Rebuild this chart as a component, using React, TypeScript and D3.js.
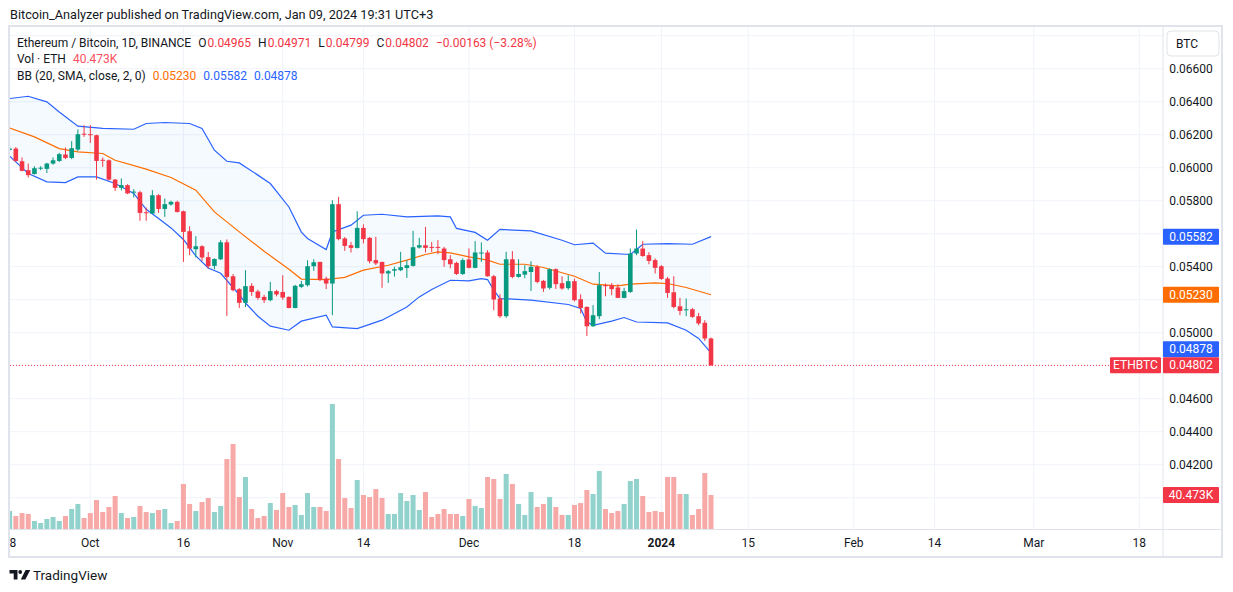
import React from 'react';
import * as d3 from 'd3';

// daily candles, ETH/BTC, from 2023-09-18 to 2024-01-09
const firstDay = '2023-09-18';

const opens = [
  0.06108, 0.06116, 0.06039, 0.05985, 0.05962, 0.05996, 0.05993, 0.06025, 0.06041, 0.0608,
  0.06059, 0.0611, 0.06206, 0.06203, 0.06197, 0.06048, 0.06045, 0.05928, 0.05878, 0.05894,
  0.0585, 0.05851, 0.0573, 0.05722, 0.05833, 0.0575, 0.05777, 0.05793, 0.05736, 0.05615,
  0.05506, 0.05524, 0.05458, 0.05405, 0.05445, 0.05548, 0.05342, 0.05264, 0.05181, 0.05284,
  0.0525, 0.05217, 0.05197, 0.05252, 0.05247, 0.05217, 0.0515, 0.05278, 0.05288, 0.05403,
  0.05429, 0.05328, 0.05298, 0.05779, 0.05571, 0.0553, 0.05514, 0.05635, 0.05575, 0.0544,
  0.05429, 0.05359, 0.05376, 0.05379, 0.05392, 0.05405, 0.05516, 0.0553, 0.0552, 0.0552,
  0.0551, 0.05445, 0.05423, 0.05356, 0.05444, 0.05393, 0.0548, 0.05486, 0.05342, 0.05207,
  0.051, 0.05445, 0.05338, 0.05352, 0.05368, 0.05399, 0.05314, 0.05272, 0.05385, 0.053,
  0.0527, 0.05312, 0.05203, 0.05156, 0.05039, 0.051, 0.05288, 0.05288, 0.05274, 0.05211,
  0.05247, 0.0548, 0.0551, 0.0547, 0.0544, 0.05403, 0.05328, 0.05245, 0.0516, 0.0514,
  0.05142, 0.051, 0.0506, 0.04965,
];
const highs = [
  0.0613, 0.06125, 0.06062, 0.06025, 0.06009, 0.06009, 0.0603, 0.06062, 0.0609, 0.06122,
  0.06161, 0.06232, 0.06258, 0.06258, 0.062, 0.06062, 0.0605, 0.05932, 0.05935, 0.059,
  0.0587, 0.0586, 0.05759, 0.05864, 0.0584, 0.05813, 0.058, 0.058, 0.0574, 0.05645,
  0.05585, 0.0553, 0.05489, 0.0545, 0.05561, 0.05565, 0.05355, 0.0527, 0.05379, 0.053,
  0.0526, 0.0523, 0.05308, 0.0526, 0.05348, 0.0522, 0.0529, 0.05314, 0.05439, 0.05445,
  0.0543, 0.0534, 0.05803, 0.05823, 0.0558, 0.0555, 0.05736, 0.05656, 0.0558, 0.05581,
  0.0543, 0.0538, 0.054, 0.0549, 0.05439, 0.05617, 0.05575, 0.05641, 0.0555, 0.05561,
  0.0552, 0.0547, 0.0543, 0.0545, 0.0551, 0.05555, 0.05547, 0.055, 0.0535, 0.05233,
  0.0549, 0.05494, 0.05445, 0.05409, 0.05433, 0.0541, 0.0532, 0.0539, 0.0539, 0.05342,
  0.05348, 0.05328, 0.05233, 0.0516, 0.05167, 0.05368, 0.05298, 0.053, 0.05294, 0.05272,
  0.0551, 0.05625, 0.05555, 0.05488, 0.0545, 0.0541, 0.05338, 0.05342, 0.05211, 0.05207,
  0.0515, 0.0512, 0.05076, 0.04971,
];
const lows = [
  0.061, 0.06035, 0.05978, 0.05941, 0.05958, 0.05985, 0.05968, 0.06018, 0.06035, 0.06052,
  0.06052, 0.061, 0.06187, 0.0615, 0.05928, 0.06005, 0.05922, 0.05859, 0.05862, 0.0584,
  0.0582, 0.05678, 0.05678, 0.05718, 0.05726, 0.05702, 0.0577, 0.05728, 0.05429, 0.0547,
  0.05456, 0.05435, 0.05389, 0.05385, 0.0544, 0.05102, 0.0525, 0.0515, 0.05156, 0.05223,
  0.052, 0.0518, 0.0519, 0.0522, 0.052, 0.05148, 0.05148, 0.0527, 0.0528, 0.05375,
  0.05312, 0.05264, 0.05106, 0.0556, 0.05496, 0.05486, 0.0551, 0.05541, 0.0542, 0.0541,
  0.05272, 0.05302, 0.0534, 0.05373, 0.05332, 0.054, 0.0551, 0.05486, 0.0549, 0.05476,
  0.05399, 0.0539, 0.0535, 0.0535, 0.0539, 0.0539, 0.05429, 0.0534, 0.05136, 0.0509,
  0.0509, 0.0533, 0.05334, 0.0533, 0.05253, 0.053, 0.05247, 0.05262, 0.05265, 0.0526,
  0.0526, 0.0519, 0.05116, 0.0498, 0.05035, 0.05082, 0.05221, 0.05227, 0.0521, 0.05208,
  0.05241, 0.0547, 0.0546, 0.05415, 0.05359, 0.0532, 0.05211, 0.05147, 0.05106, 0.051,
  0.0509, 0.05045, 0.0495, 0.04799,
];
const closes = [
  0.06116, 0.06041, 0.05981, 0.05955, 0.05997, 0.06, 0.06025, 0.06045, 0.06082, 0.06059,
  0.06118, 0.06203, 0.06203, 0.06199, 0.06041, 0.06045, 0.05928, 0.05878, 0.05894, 0.05844,
  0.05855, 0.05726, 0.05728, 0.05833, 0.0575, 0.05779, 0.05793, 0.05732, 0.05611, 0.0551,
  0.05524, 0.05456, 0.05403, 0.05447, 0.05548, 0.05338, 0.05258, 0.05181, 0.05282, 0.05247,
  0.05211, 0.05197, 0.05252, 0.05232, 0.05213, 0.0515, 0.05284, 0.05294, 0.05403, 0.05427,
  0.05322, 0.05298, 0.05779, 0.05567, 0.05526, 0.05514, 0.05635, 0.05567, 0.05433, 0.0542,
  0.05359, 0.05373, 0.05385, 0.05397, 0.05409, 0.05518, 0.0553, 0.05514, 0.05516, 0.05515,
  0.0544, 0.05415, 0.05356, 0.0544, 0.05393, 0.05486, 0.05486, 0.05342, 0.05201, 0.051,
  0.05445, 0.05338, 0.05356, 0.05373, 0.05399, 0.05308, 0.05268, 0.05385, 0.05294, 0.05268,
  0.05312, 0.05197, 0.0515, 0.05039, 0.05106, 0.05288, 0.05284, 0.05264, 0.05211, 0.05252,
  0.0548, 0.0551, 0.05465, 0.05435, 0.05393, 0.05326, 0.05241, 0.05156, 0.05132, 0.05142,
  0.05096, 0.05056, 0.04965, 0.04802,
];
// volume in thousands of ETH
const volumes = [
  21.4, 15.5, 19.0, 17.9, 9.5, 7.1, 11.9, 14.3, 9.5, 15.5,
  23.8, 29.8, 13.1, 19.0, 34.5, 20.2, 26.2, 39.3, 19.0, 13.1,
  14.3, 27.4, 20.2, 19.0, 22.6, 23.8, 7.1, 9.5, 53.6, 29.8,
  21.4, 32.1, 36.9, 20.2, 27.4, 83.3, 101.2, 38.1, 61.9, 23.8,
  13.1, 15.5, 30.9, 22.6, 42.8, 26.2, 28.6, 16.7, 42.8, 26.2,
  26.2, 21.4, 148.8, 83.3, 36.9, 25.0, 58.3, 40.5, 38.1, 47.6,
  36.9, 17.9, 17.9, 42.8, 33.3, 40.5, 22.6, 44.0, 14.3, 17.9,
  23.8, 17.9, 17.9, 15.5, 35.7, 27.4, 25.0, 61.9, 59.5, 35.7,
  65.5, 53.6, 29.8, 16.7, 44.0, 26.2, 29.8, 38.1, 26.2, 16.7,
  16.7, 28.6, 30.9, 46.4, 41.7, 69.0, 23.8, 19.0, 21.4, 29.8,
  57.1, 59.5, 39.3, 20.2, 21.4, 20.2, 61.9, 61.9, 41.7, 41.7,
  16.7, 23.8, 66.6, 40.473,
];

// Bollinger Bands (20, 2)
const bbUpper: [string, number][] = [
  ['2023-09-18', 0.06419], ['2023-09-21', 0.06433], ['2023-09-24', 0.06399], ['2023-09-26', 0.06338],
  ['2023-09-29', 0.06252], ['2023-10-03', 0.06238], ['2023-10-08', 0.06233], ['2023-10-10', 0.06268],
  ['2023-10-13', 0.06274], ['2023-10-17', 0.06268], ['2023-10-19', 0.06238], ['2023-10-21', 0.06106],
  ['2023-10-23', 0.06039], ['2023-10-25', 0.06029], ['2023-10-28', 0.05955], ['2023-10-30', 0.05904],
  ['2023-11-02', 0.05762], ['2023-11-04', 0.0561], ['2023-11-05', 0.05571], ['2023-11-08', 0.05504],
  ['2023-11-09', 0.0561], ['2023-11-12', 0.05652], ['2023-11-14', 0.05712], ['2023-11-17', 0.05718],
  ['2023-11-21', 0.05702], ['2023-11-26', 0.05708], ['2023-11-28', 0.05702], ['2023-11-29', 0.05632],
  ['2023-12-02', 0.05608], ['2023-12-04', 0.0556], ['2023-12-06', 0.05626], ['2023-12-11', 0.05617],
  ['2023-12-16', 0.0556], ['2023-12-18', 0.05533], ['2023-12-21', 0.05543], ['2023-12-23', 0.05482],
  ['2023-12-27', 0.05474], ['2023-12-28', 0.05504], ['2023-12-29', 0.05536], ['2024-01-02', 0.0554],
  ['2024-01-06', 0.05536], ['2024-01-09', 0.05582],
];
const bbBasis: [string, number][] = [
  ['2023-09-18', 0.06241], ['2023-09-22', 0.06187], ['2023-09-26', 0.06116], ['2023-09-29', 0.06096],
  ['2023-10-03', 0.06086], ['2023-10-05', 0.06045], ['2023-10-10', 0.05991], ['2023-10-14', 0.05941],
  ['2023-10-18', 0.05864], ['2023-10-21', 0.05732], ['2023-10-25', 0.05611], ['2023-10-29', 0.05494],
  ['2023-11-02', 0.05385], ['2023-11-04', 0.05325], ['2023-11-08', 0.05322], ['2023-11-11', 0.05335],
  ['2023-11-14', 0.05379], ['2023-11-18', 0.05409], ['2023-11-21', 0.0544], ['2023-11-24', 0.05474],
  ['2023-11-26', 0.0549], ['2023-11-28', 0.05484], ['2023-12-01', 0.0546], ['2023-12-04', 0.0544],
  ['2023-12-06', 0.05415], ['2023-12-10', 0.05415], ['2023-12-13', 0.05395], ['2023-12-18', 0.05342],
  ['2023-12-21', 0.05294], ['2023-12-25', 0.05284], ['2023-12-27', 0.05294], ['2023-12-31', 0.05302],
  ['2024-01-02', 0.05298], ['2024-01-05', 0.05274], ['2024-01-09', 0.0523],
];
const bbLower: [string, number][] = [
  ['2023-09-18', 0.0607], ['2023-09-21', 0.05965], ['2023-09-24', 0.05914], ['2023-09-27', 0.0591],
  ['2023-09-29', 0.05944], ['2023-10-02', 0.05944], ['2023-10-05', 0.05904], ['2023-10-08', 0.05844],
  ['2023-10-10', 0.05748], ['2023-10-12', 0.05692], ['2023-10-14', 0.05635], ['2023-10-16', 0.05565],
  ['2023-10-18', 0.05465], ['2023-10-20', 0.05392], ['2023-10-22', 0.0536], ['2023-10-25', 0.0523],
  ['2023-10-26', 0.0518], ['2023-10-28', 0.051], ['2023-10-30', 0.0504], ['2023-11-02', 0.05015],
  ['2023-11-04', 0.0507], ['2023-11-08', 0.05106], ['2023-11-09', 0.05035], ['2023-11-13', 0.05025],
  ['2023-11-17', 0.05076], ['2023-11-21', 0.05156], ['2023-11-23', 0.05217], ['2023-11-25', 0.05262],
  ['2023-11-28', 0.05318], ['2023-12-01', 0.05314], ['2023-12-03', 0.05328], ['2023-12-04', 0.05322],
  ['2023-12-05', 0.05258], ['2023-12-06', 0.05207], ['2023-12-11', 0.05197], ['2023-12-17', 0.05171],
  ['2023-12-19', 0.05147], ['2023-12-20', 0.05065], ['2023-12-21', 0.05045], ['2023-12-24', 0.0507],
  ['2023-12-26', 0.05092], ['2023-12-28', 0.05065], ['2024-01-02', 0.05059], ['2024-01-05', 0.05015],
  ['2024-01-07', 0.04965], ['2024-01-09', 0.04878],
];

const timeTicks: [string, string][] = [
  ['2023-09-18', '18'], ['2023-10-01', 'Oct'], ['2023-10-16', '16'], ['2023-11-01', 'Nov'],
  ['2023-11-14', '14'], ['2023-12-01', 'Dec'], ['2023-12-18', '18'], ['2024-01-01', '2024'],
  ['2024-01-15', '15'], ['2024-02-01', 'Feb'], ['2024-02-14', '14'], ['2024-03-01', 'Mar'],
  ['2024-03-18', '18'],
];
const priceTicks = [0.040, 0.042, 0.044, 0.046, 0.048, 0.050, 0.052, 0.054, 0.056, 0.058, 0.060, 0.062, 0.064, 0.066, 0.068];

const W = 1233;
const H = 592;
const paneL = 10;
const paneR = 1163;
const paneT = 27;
const paneB = 529;

const FONT = 'Roboto, "Liberation Sans", sans-serif';
const TEXT = '#131722';
const UP = '#089981';
const DOWN = '#f23645';
const BLUE = '#2962ff';
const ORANGE = '#ff6d00';
const GRID = '#f0f3fa';
const BORDER = '#e0e3eb';

const parse = d3.utcParse('%Y-%m-%d');

const App: React.FC = () => {
  const day0 = parse(firstDay)!;
  const candles = closes.map((c, i) => ({
    date: d3.utcDay.offset(day0, i),
    open: opens[i],
    high: highs[i],
    low: lows[i],
    close: c,
    volume: volumes[i],
  }));

  const x = d3
    .scaleUtc()
    .domain([parse('2023-10-01')!, parse('2024-03-18')!])
    .range([90.3, 1139.3]);
  const y = d3.scaleLinear().domain([0.04, 0.066]).range([497.7, 68.7]);
  const yVol = d3.scaleLinear().domain([0, 150]).range([paneB, paneB - 126]);

  const bodyW = 4.6;
  const volW = 5;

  const line = d3
    .line<[string, number]>()
    .x((d) => x(parse(d[0])!))
    .y((d) => y(d[1]));
  const bandFill =
    line(bbUpper)! + 'L' + line([...bbLower].reverse())!.slice(1) + 'Z';

  const last = candles[candles.length - 1];
  const prev = candles[candles.length - 2];
  const lastY = y(last.close);
  const lowerLast = bbLower[bbLower.length - 1][1];
  const upperLast = bbUpper[bbUpper.length - 1][1];
  const basisLast = bbBasis[bbBasis.length - 1][1];
  const labelH = 16;
  const redTop = lastY - labelH / 2;
  const lowerTop = Math.min(y(lowerLast) - labelH / 2, redTop - labelH);
  const volTop = yVol(last.volume) - labelH / 2;

  // label boxes on the price scale hide the ticks beneath them
  const boxTops = [y(upperLast) - labelH / 2, y(basisLast) - labelH / 2, lowerTop, redTop, volTop];
  const visibleTicks = priceTicks.filter(
    (p) => y(p) > 60 && y(p) < 520 && boxTops.every((t) => y(p) + 5 < t || y(p) - 5 > t + labelH)
  );

  const priceFmt = d3.format('.5f');
  const change = last.close - prev.close;
  const changeTxt =
    '−' + d3.format('.5f')(Math.abs(change)) + ' (−' + d3.format('.2f')(Math.abs(change / prev.close) * 100) + '%)';

  const axisLabel = (yc: number, fill: string, text: string, xl = paneR, w = 56) => (
    <g>
      <rect x={xl} y={yc} width={w} height={labelH} fill={fill} rx={1} />
      <text x={xl + w / 2} y={yc + 12} fontSize={12} fill="#fff" textAnchor="middle">
        {text}
      </text>
    </g>
  );

  return (
    <svg
      width={W}
      height={H}
      style={{ position: 'absolute', left: 0, top: 0, background: '#fff' }}
      fontFamily={FONT}
    >
      <defs>
        <clipPath id="pane">
          <rect x={paneL} y={paneT} width={paneR - paneL} height={paneB - paneT} />
        </clipPath>
        <clipPath id="timeaxis">
          <rect x={paneL} y={paneB} width={paneR - paneL} height={30} />
        </clipPath>
      </defs>

      <text x={10} y={19} fontSize={12.7} fill={TEXT}>
        Bitcoin_Analyzer published on TradingView.com, Jan 09, 2024 19:31 UTC+3
      </text>

      {/* outer frame */}
      <rect x={9} y={26} width={1213} height={531} fill="#fff" stroke={BORDER} strokeWidth={2} />

      <g clipPath="url(#pane)">
        {priceTicks.map((p) => (
          <line key={p} x1={paneL} x2={paneR} y1={y(p)} y2={y(p)} stroke={GRID} strokeWidth={1} />
        ))}
        {timeTicks.map(([d]) => (
          <line key={d} x1={x(parse(d)!)} x2={x(parse(d)!)} y1={paneT} y2={paneB} stroke={GRID} strokeWidth={1} />
        ))}

        {/* volume */}
        {candles.map((c, i) => (
          <rect
            key={'v' + i}
            x={x(c.date) - volW / 2}
            y={yVol(c.volume)}
            width={volW}
            height={paneB - yVol(c.volume)}
            fill={c.close >= c.open ? '#92d2cc' : '#f7a9a7'}
          />
        ))}

        {/* Bollinger Bands */}
        <path d={bandFill} fill="rgba(33,150,243,0.05)" stroke="none" />
        <path d={line(bbUpper)!} fill="none" stroke={BLUE} strokeWidth={1.2} />
        <path d={line(bbLower)!} fill="none" stroke={BLUE} strokeWidth={1.2} />
        <path d={line(bbBasis)!} fill="none" stroke={ORANGE} strokeWidth={1.2} />

        {/* candles */}
        {candles.map((c, i) => {
          const col = c.close >= c.open ? UP : DOWN;
          const cx = x(c.date);
          const top = y(Math.max(c.open, c.close));
          const bot = y(Math.min(c.open, c.close));
          return (
            <g key={'c' + i}>
              <line x1={cx} x2={cx} y1={y(c.high)} y2={y(c.low)} stroke={col} strokeWidth={1} />
              <rect x={cx - bodyW / 2} y={top} width={bodyW} height={Math.max(1, bot - top)} fill={col} />
            </g>
          );
        })}

        <line x1={paneL} x2={1110} y1={lastY} y2={lastY} stroke={DOWN} strokeWidth={1} strokeDasharray="1 2" />
      </g>

      {/* pane separators */}
      <line x1={paneR} x2={paneR} y1={paneT} y2={556} stroke={BORDER} strokeWidth={1} />
      <line x1={paneL} x2={1221} y1={paneB + 0.5} y2={paneB + 0.5} stroke={BORDER} strokeWidth={1} />

      {/* legend */}
      <g fontSize={12} fill={TEXT}>
        <text x={17} y={46.5}>
          Ethereum / Bitcoin, 1D, BINANCE
          <tspan dx={7}>O</tspan>
          <tspan dx={1} fill={DOWN}>{priceFmt(last.open)}</tspan>
          <tspan dx={7}>H</tspan>
          <tspan dx={1} fill={DOWN}>{priceFmt(last.high)}</tspan>
          <tspan dx={7}>L</tspan>
          <tspan dx={1} fill={DOWN}>{priceFmt(last.low)}</tspan>
          <tspan dx={7}>C</tspan>
          <tspan dx={1} fill={DOWN}>{priceFmt(last.close)}</tspan>
          <tspan dx={7} fill={DOWN}>{changeTxt}</tspan>
        </text>
        <text x={17} y={63}>
          Vol · ETH
          <tspan dx={7} fill="#f7525f">{last.volume.toFixed(3)}K</tspan>
        </text>
        <text x={17} y={79.5}>
          BB (20, SMA, close, 2, 0)
          <tspan dx={7} fill={ORANGE}>{priceFmt(basisLast)}</tspan>
          <tspan dx={7} fill={BLUE}>{priceFmt(upperLast)}</tspan>
          <tspan dx={7} fill={BLUE}>{priceFmt(lowerLast)}</tspan>
        </text>
      </g>

      {/* price axis */}
      <g fontSize={12} fill={TEXT} textAnchor="middle">
        {visibleTicks.map((p) => (
          <text key={p} x={1191} y={y(p) + 4}>
            {priceFmt(p)}
          </text>
        ))}
      </g>
      <rect x={1167} y={31} width={52} height={25} rx={4} fill="#fff" stroke={BORDER} strokeWidth={1} />
      <text x={1176} y={48} fontSize={12} fill={TEXT}>BTC</text>

      {axisLabel(y(upperLast) - labelH / 2, BLUE, priceFmt(upperLast))}
      {axisLabel(y(basisLast) - labelH / 2, ORANGE, priceFmt(basisLast))}
      {axisLabel(lowerTop, BLUE, priceFmt(lowerLast))}
      {axisLabel(redTop, DOWN, priceFmt(last.close))}
      {axisLabel(redTop, DOWN, 'ETHBTC', 1110, 51)}
      {axisLabel(volTop, DOWN, last.volume.toFixed(3) + 'K')}

      {/* time axis */}
      <g clipPath="url(#timeaxis)" fontSize={12} fill={TEXT} textAnchor="middle">
        {timeTicks.map(([d, t]) => (
          <text key={d} x={x(parse(d)!)} y={546.5} fontWeight={t === '2024' ? 'bold' : 'normal'}>
            {t}
          </text>
        ))}
      </g>

      {/* logo */}
      <g fill={TEXT}>
        <path d="M9.5 570 H17.5 V579.5 H13.7 V573.6 H9.5 Z" />
        <circle cx={20.2} cy={572} r={1.9} />
        <path d="M25.6 570 H30.3 L25.3 579.5 H20.8 Z" />
        <text x={33} y={580} fontSize={13.5}>TradingView</text>
      </g>
    </svg>
  );
};

export default App;
